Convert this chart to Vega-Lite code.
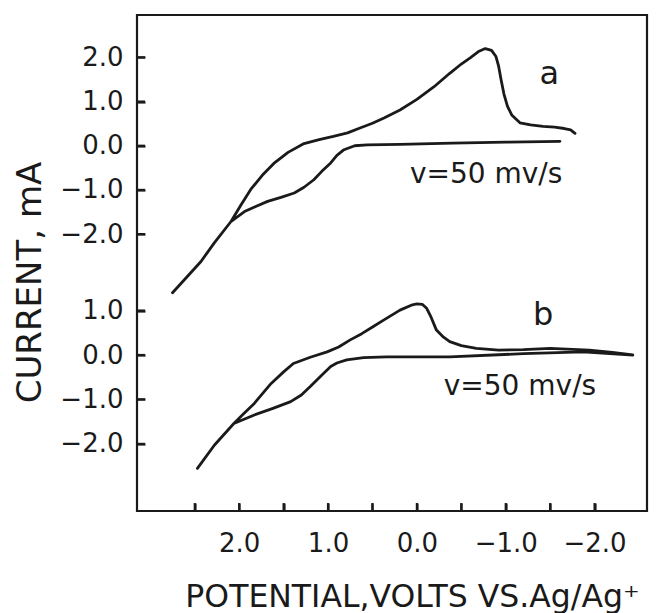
{
  "$schema": "https://vega.github.io/schema/vega-lite/v6.json",
  "width": 510,
  "height": 496,
  "autosize": {"type": "none"},
  "padding": {"left": 137, "top": 15, "right": 11, "bottom": 102},
  "background": "white",
  "config": {
    "view": {"stroke": "#1a1a1a", "strokeWidth": 2.2},
    "axis": {
      "grid": false,
      "labelFont": "DejaVu Sans",
      "labelFontSize": 26,
      "labelColor": "#1a1a1a",
      "titleFont": "DejaVu Sans",
      "titleFontWeight": "normal",
      "titleColor": "#1a1a1a"
    },
    "text": {"font": "DejaVu Sans", "color": "#1a1a1a"}
  },
  "datasets": {
    "a": [
      {"k": 1, "v": -1.61, "i": 0.10},
      {"k": 2, "v": -1.0, "i": 0.08},
      {"k": 3, "v": -0.4, "i": 0.06},
      {"k": 4, "v": 0.19, "i": 0.03},
      {"k": 5, "v": 0.56, "i": 0.02},
      {"k": 6, "v": 0.70, "i": 0.0},
      {"k": 7, "v": 0.82, "i": -0.09},
      {"k": 8, "v": 0.90, "i": -0.22},
      {"k": 9, "v": 0.97, "i": -0.39},
      {"k": 10, "v": 1.07, "i": -0.58},
      {"k": 11, "v": 1.16, "i": -0.77},
      {"k": 12, "v": 1.27, "i": -0.94},
      {"k": 13, "v": 1.38, "i": -1.07},
      {"k": 14, "v": 1.53, "i": -1.17},
      {"k": 15, "v": 1.68, "i": -1.26},
      {"k": 16, "v": 1.82, "i": -1.38},
      {"k": 17, "v": 1.94, "i": -1.49},
      {"k": 18, "v": 2.09, "i": -1.71},
      {"k": 19, "v": 2.28, "i": -2.20},
      {"k": 20, "v": 2.43, "i": -2.62},
      {"k": 21, "v": 2.75, "i": -3.33},
      {"k": 22, "v": 2.43, "i": -2.62},
      {"k": 23, "v": 2.28, "i": -2.20},
      {"k": 24, "v": 2.09, "i": -1.71},
      {"k": 25, "v": 1.98, "i": -1.34},
      {"k": 26, "v": 1.87, "i": -0.99},
      {"k": 27, "v": 1.74, "i": -0.67},
      {"k": 28, "v": 1.61, "i": -0.40},
      {"k": 29, "v": 1.45, "i": -0.15},
      {"k": 30, "v": 1.27, "i": 0.05},
      {"k": 31, "v": 1.10, "i": 0.14},
      {"k": 32, "v": 0.94, "i": 0.21},
      {"k": 33, "v": 0.78, "i": 0.29},
      {"k": 34, "v": 0.64, "i": 0.40},
      {"k": 35, "v": 0.50, "i": 0.51},
      {"k": 36, "v": 0.37, "i": 0.63},
      {"k": 37, "v": 0.19, "i": 0.81},
      {"k": 38, "v": 0.0, "i": 1.05},
      {"k": 39, "v": -0.19, "i": 1.33},
      {"k": 40, "v": -0.37, "i": 1.64},
      {"k": 41, "v": -0.50, "i": 1.85},
      {"k": 42, "v": -0.60, "i": 1.99},
      {"k": 43, "v": -0.70, "i": 2.14},
      {"k": 44, "v": -0.77, "i": 2.20},
      {"k": 45, "v": -0.84, "i": 2.16},
      {"k": 46, "v": -0.89, "i": 2.02},
      {"k": 47, "v": -0.92, "i": 1.80},
      {"k": 48, "v": -0.95, "i": 1.47},
      {"k": 49, "v": -0.98, "i": 1.17},
      {"k": 50, "v": -1.02, "i": 0.89},
      {"k": 51, "v": -1.07, "i": 0.69},
      {"k": 52, "v": -1.16, "i": 0.52},
      {"k": 53, "v": -1.28, "i": 0.47},
      {"k": 54, "v": -1.42, "i": 0.44},
      {"k": 55, "v": -1.55, "i": 0.42},
      {"k": 56, "v": -1.66, "i": 0.39},
      {"k": 57, "v": -1.73, "i": 0.36},
      {"k": 58, "v": -1.78, "i": 0.28}
    ],
    "b": [
      {"k": 1, "v": -2.43, "i": 0.0},
      {"k": 2, "v": -1.87, "i": 0.07},
      {"k": 3, "v": -1.2, "i": 0.03},
      {"k": 4, "v": -0.37, "i": -0.04},
      {"k": 5, "v": 0.34, "i": -0.04},
      {"k": 6, "v": 0.60, "i": -0.06},
      {"k": 7, "v": 0.79, "i": -0.11},
      {"k": 8, "v": 0.90, "i": -0.18},
      {"k": 9, "v": 0.97, "i": -0.26},
      {"k": 10, "v": 1.08, "i": -0.47},
      {"k": 11, "v": 1.20, "i": -0.71},
      {"k": 12, "v": 1.30, "i": -0.90},
      {"k": 13, "v": 1.42, "i": -1.05},
      {"k": 14, "v": 1.62, "i": -1.20},
      {"k": 15, "v": 1.83, "i": -1.35},
      {"k": 16, "v": 2.06, "i": -1.54},
      {"k": 17, "v": 2.28, "i": -2.03},
      {"k": 18, "v": 2.47, "i": -2.55},
      {"k": 19, "v": 2.28, "i": -2.03},
      {"k": 20, "v": 2.06, "i": -1.54},
      {"k": 21, "v": 1.95, "i": -1.32},
      {"k": 22, "v": 1.83, "i": -1.09},
      {"k": 23, "v": 1.64, "i": -0.64},
      {"k": 24, "v": 1.50, "i": -0.38},
      {"k": 25, "v": 1.39, "i": -0.19},
      {"k": 26, "v": 1.20, "i": -0.05},
      {"k": 27, "v": 1.01, "i": 0.07},
      {"k": 28, "v": 0.88, "i": 0.18},
      {"k": 29, "v": 0.75, "i": 0.34},
      {"k": 30, "v": 0.62, "i": 0.48},
      {"k": 31, "v": 0.49, "i": 0.64},
      {"k": 32, "v": 0.37, "i": 0.79},
      {"k": 33, "v": 0.19, "i": 1.01},
      {"k": 34, "v": 0.05, "i": 1.13},
      {"k": 35, "v": 0.0, "i": 1.15},
      {"k": 36, "v": -0.06, "i": 1.14},
      {"k": 37, "v": -0.11, "i": 1.05},
      {"k": 38, "v": -0.16, "i": 0.85},
      {"k": 39, "v": -0.22, "i": 0.56},
      {"k": 40, "v": -0.30, "i": 0.40},
      {"k": 41, "v": -0.37, "i": 0.30},
      {"k": 42, "v": -0.50, "i": 0.21},
      {"k": 43, "v": -0.67, "i": 0.15},
      {"k": 44, "v": -0.92, "i": 0.11},
      {"k": 45, "v": -1.2, "i": 0.12},
      {"k": 46, "v": -1.50, "i": 0.15},
      {"k": 47, "v": -1.94, "i": 0.11},
      {"k": 48, "v": -2.2, "i": 0.06},
      {"k": 49, "v": -2.43, "i": 0.0}
    ],
    "la": [
      {"v": -1.49, "i": 1.63, "label": "a", "size": 32},
      {"v": -0.78, "i": -0.67, "label": "v=50 mv/s", "size": 28}
    ],
    "lb": [
      {"v": -1.42, "i": 0.90, "label": "b", "size": 32},
      {"v": -1.16, "i": -0.71, "label": "v=50 mv/s", "size": 28}
    ],
    "xticks": [
      {"v": 2.5}, {"v": 2.0}, {"v": 1.5}, {"v": 1.0}, {"v": 0.5},
      {"v": 0.0}, {"v": -0.5}, {"v": -1.0}, {"v": -1.5}, {"v": -2.0}
    ],
    "yticksa": [{"i": 2}, {"i": 1}, {"i": 0}, {"i": -1}, {"i": -2}],
    "yticksb": [{"i": 1}, {"i": 0}, {"i": -1}, {"i": -2}]
  },
  "layer": [
    {
      "layer": [
        {
          "data": {"name": "a"},
          "mark": {"type": "line", "color": "#1a1a1a", "strokeWidth": 2.8, "strokeJoin": "round", "strokeCap": "round"},
          "encoding": {
            "x": {
              "field": "v", "type": "quantitative",
              "scale": {"domain": [3.15, -2.59], "nice": false, "zero": false},
              "axis": {
                "zindex": 2,
                "domain": false,
                "ticks": true,
                "tickColor": "#1a1a1a",
                "tickOpacity": 1,
                "tickWidth": 2.2,
                "tickSize": 8,
                "offset": -8,
                "values": [2.5, 2, 1.5, 1, 0.5, 0, -0.5, -1, -1.5, -2],
                "labelExpr": "datum.value % 1 === 0 ? format(datum.value, '.1f') : ''",
                "labelPadding": 19,
                "labelBaseline": "top",
                "title": "POTENTIAL,VOLTS VS.Ag/Ag⁺",
                "titleFontSize": 31.5,
                "titleX": 275,
                "titleY": 103,
                "titleAlign": "center",
                "titleBaseline": "alphabetic"
              }
            },
            "y": {
              "field": "i", "type": "quantitative",
              "scale": {"domain": [-8.27, 2.96], "nice": false, "zero": false},
              "axis": {
                "zindex": 2,
                "orient": "left",
                "domain": false,
                "ticks": true,
                "tickColor": "#1a1a1a",
                "tickOpacity": 1,
                "tickWidth": 2.2,
                "tickSize": 8,
                "offset": -8,
                "values": [2, 1, 0, -1, -2],
                "format": ".1f",
                "labelPadding": 14,
                "title": "CURRENT, mA",
                "titleFontSize": 34,
                "titleX": -105,
                "titleY": 267,
                "titleAngle": -90,
                "titleAlign": "center",
                "titleBaseline": "alphabetic"
              }
            },
            "order": {"field": "k", "type": "quantitative"}
          }
        },
        {
          "data": {"name": "la"},
          "mark": {"type": "text", "align": "center", "baseline": "middle"},
          "encoding": {
            "x": {"field": "v", "type": "quantitative"},
            "y": {"field": "i", "type": "quantitative", "title": "CURRENT, mA"},
            "text": {"field": "label"},
            "size": {"field": "size", "type": "quantitative", "scale": null, "legend": null}
          }
        },
        {
          "data": {"name": "xticks"},
          "mark": {"type": "rule", "color": "#1a1a1a", "strokeWidth": 2.2},
          "encoding": {
            "x": {"field": "v", "type": "quantitative"},
            "y": {"datum": -8.27, "type": "quantitative"},
            "y2": {"datum": -8.09}
          }
        },
        {
          "data": {"name": "yticksa"},
          "mark": {"type": "rule", "color": "#1a1a1a", "strokeWidth": 2.2},
          "encoding": {
            "x": {"datum": 3.15, "type": "quantitative"},
            "x2": {"datum": 3.06},
            "y": {"field": "i", "type": "quantitative", "title": "CURRENT, mA"}
          }
        }
      ]
    },
    {
      "layer": [
        {
          "data": {"name": "b"},
          "mark": {"type": "line", "color": "#1a1a1a", "strokeWidth": 2.8, "strokeJoin": "round", "strokeCap": "round"},
          "encoding": {
            "x": {"field": "v", "type": "quantitative"},
            "y": {
              "field": "i", "type": "quantitative",
              "scale": {"domain": [-3.51, 7.65], "nice": false, "zero": false},
              "axis": {
                "zindex": 2,
                "orient": "left",
                "domain": false,
                "ticks": true,
                "tickColor": "#1a1a1a",
                "tickOpacity": 1,
                "tickWidth": 2.2,
                "tickSize": 8,
                "offset": -8,
                "values": [1, 0, -1, -2],
                "format": ".1f",
                "labelPadding": 14,
                "title": null
              }
            },
            "order": {"field": "k", "type": "quantitative"}
          }
        },
        {
          "data": {"name": "lb"},
          "mark": {"type": "text", "align": "center", "baseline": "middle"},
          "encoding": {
            "x": {"field": "v", "type": "quantitative"},
            "y": {"field": "i", "type": "quantitative", "title": null},
            "text": {"field": "label"},
            "size": {"field": "size", "type": "quantitative", "scale": null, "legend": null}
          }
        },
        {
          "data": {"name": "yticksb"},
          "mark": {"type": "rule", "color": "#1a1a1a", "strokeWidth": 2.2},
          "encoding": {
            "x": {"datum": 3.15, "type": "quantitative"},
            "x2": {"datum": 3.06},
            "y": {"field": "i", "type": "quantitative", "title": null}
          }
        }
      ]
    }
  ],
  "resolve": {"scale": {"y": "independent"}, "axis": {"y": "independent"}}
}
